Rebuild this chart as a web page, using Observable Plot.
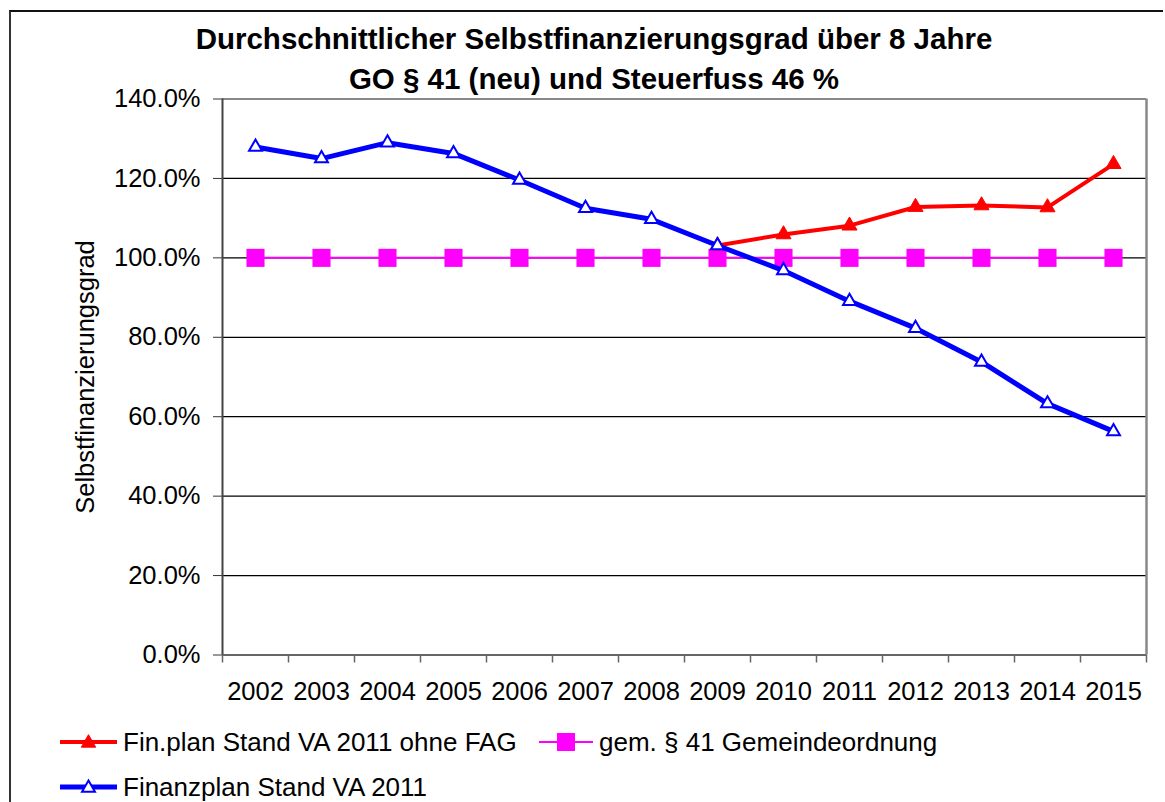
<!DOCTYPE html>
<html>
<head>
<meta charset="utf-8">
<script src="https://cdn.jsdelivr.net/npm/d3@7"></script>
<script src="https://cdn.jsdelivr.net/npm/@observablehq/plot@0.6"></script>
<style>
  html, body { margin: 0; padding: 0; background: #fff; }
  body { width: 1165px; height: 802px; overflow: hidden; position: relative; font-family: "Liberation Sans", Arial, sans-serif; }
  #frame { position: absolute; left: 9px; top: 10px; width: 1154px; height: 800px; border-left: 2px solid #333; border-top: 2px solid #111; box-sizing: border-box; }
  .title { position: absolute; left: 0; width: 1188px; text-align: center; font-weight: bold; font-size: 29.5px; line-height: 29.5px; color: #000; white-space: nowrap; }
  #chart { position: absolute; left: 0; top: 0; }
  .leg { position: absolute; font-size: 26px; line-height: 26px; color: #000; white-space: nowrap; display: flex; align-items: center; }
  .leg svg { display: block; }
</style>
</head>
<body>
<div id="frame"></div>
<div class="title" style="top:24px">Durchschnittlicher Selbstfinanzierungsgrad über 8 Jahre</div>
<div class="title" style="top:64px">GO § 41 (neu) und Steuerfuss 46 %</div>
<div id="chart"></div>
<div id="legend"></div>
<script>
const years = [2002, 2003, 2004, 2005, 2006, 2007, 2008, 2009, 2010, 2011, 2012, 2013, 2014, 2015];
const finanzplan = [127.9, 125.0, 129.0, 126.3, 119.6, 112.5, 109.7, 103.1, 96.8, 89.1, 82.3, 73.8, 63.3, 56.3];
const ohneFagYears = [2009, 2010, 2011, 2012, 2013, 2014, 2015];
const ohneFag = [103.1, 105.9, 108.1, 112.8, 113.2, 112.7, 123.6];
const gemeindeordnung = [100, 100, 100, 100, 100, 100, 100, 100, 100, 100, 100, 100, 100, 100];
const yTicks = [0, 20, 40, 60, 80, 100, 120, 140];
const seriesNames = ["Fin.plan Stand VA 2011 ohne FAG", "gem. § 41 Gemeindeordnung", "Finanzplan Stand VA 2011"];
const yLabel = "Selbstfinanzierungsgrad";

const blueData = years.map((y, i) => ({year: y, value: finanzplan[i]}));
const redData = ohneFagYears.map((y, i) => ({year: y, value: ohneFag[i]}));
const magData = years.map((y, i) => ({year: y, value: gemeindeordnung[i]}));
const bounds = [years[0] - 0.5, ...years.map(y => y + 0.5)];

const font = '"Liberation Sans", Arial, sans-serif';

const chart = Plot.plot({
  width: 1165,
  height: 720,
  marginLeft: 222,
  marginRight: 19,
  marginTop: 98.5,
  marginBottom: 65.5,
  style: {fontFamily: font, fontSize: "25.5px", color: "#000", background: "transparent", overflow: "visible"},
  x: {type: "linear", domain: [bounds[0], bounds[bounds.length - 1]]},
  y: {domain: [0, 140]},
  marks: [
    Plot.ruleY(yTicks.filter(v => v > 0 && v < 140), {stroke: "#000", strokeWidth: 1.2}),
    Plot.ruleY([140], {stroke: "#888", strokeWidth: 2}),
    Plot.ruleX([bounds[bounds.length - 1]], {stroke: "#888", strokeWidth: 2.5}),
    Plot.axisY({ticks: yTicks, tickSize: 9, tickPadding: 13, tickFormat: d => d.toFixed(1) + "%", label: null, fontSize: "25.5px", stroke: "#333"}),
    Plot.axisX({ticks: years, tickSize: 0, tickPadding: 27, tickFormat: d => String(d), label: null, fontSize: "25.5px"}),
    Plot.axisX({ticks: bounds, tickSize: 8, tickFormat: () => "", label: null, stroke: "#666", strokeWidth: 1.5}),
    Plot.ruleY([0], {stroke: "#666", strokeWidth: 2}),
    Plot.ruleX([bounds[0]], {stroke: "#444", strokeWidth: 2}),
    Plot.text([yLabel], {frameAnchor: "left", dx: -137, dy: 0, rotate: -90, textAnchor: "middle", fontSize: "25.5px", fill: "#000"}),
    // magenta series
    Plot.line(magData, {x: "year", y: "value", stroke: "#ff00ff", strokeWidth: 2}),
    Plot.dot(magData, {x: "year", y: "value", symbol: "square", r: 10.2, fill: "#ff00ff", stroke: "none"}),
    // red series
    Plot.line(redData, {x: "year", y: "value", stroke: "#ff0000", strokeWidth: 4}),
    Plot.dot(redData, {x: "year", y: "value", symbol: "triangle", r: 5.6, fill: "#ff0000", stroke: "#ff0000", strokeWidth: 1}),
    // blue series
    Plot.line(blueData, {x: "year", y: "value", stroke: "#0000ff", strokeWidth: 5}),
    Plot.dot(blueData, {x: "year", y: "value", symbol: "triangle", r: 4.8, fill: "#fff", stroke: "#0000ff", strokeWidth: 2})
  ]
});
document.getElementById("chart").appendChild(chart);

// Legend
const legend = document.getElementById("legend");
function swatch(color, width, lineW, kind) {
  const svg = d3.create("svg").attr("width", width).attr("height", 26);
  svg.append("line").attr("x1", 0).attr("x2", width).attr("y1", 13).attr("y2", 13)
    .attr("stroke", color).attr("stroke-width", lineW);
  const cx = width / 2;
  if (kind === "square") {
    svg.append("rect").attr("x", cx - 9).attr("y", 4).attr("width", 18).attr("height", 18).attr("fill", color);
  } else {
    const sym = d3.symbol(d3.symbolTriangle, kind === "tri-open" ? 72 : 90)();
    svg.append("path").attr("d", sym).attr("transform", `translate(${cx},14)`)
      .attr("fill", kind === "tri-open" ? "#fff" : color)
      .attr("stroke", color).attr("stroke-width", kind === "tri-open" ? 2 : 1);
  }
  return svg.node();
}
const items = [
  {name: seriesNames[0], color: "#ff0000", lw: 4, kind: "tri", left: 60, top: 729, w: 57},
  {name: seriesNames[1], color: "#ff00ff", lw: 2, kind: "square", left: 539, top: 729, w: 54},
  {name: seriesNames[2], color: "#0000ff", lw: 5, kind: "tri-open", left: 60, top: 774, w: 57}
];
for (const it of items) {
  const div = document.createElement("div");
  div.className = "leg";
  div.style.left = it.left + "px";
  div.style.top = it.top + "px";
  div.appendChild(swatch(it.color, it.w, it.lw, it.kind));
  const span = document.createElement("span");
  span.textContent = it.name;
  span.style.marginLeft = "6px";
  div.appendChild(span);
  legend.appendChild(div);
}
</script>
</body>
</html>
